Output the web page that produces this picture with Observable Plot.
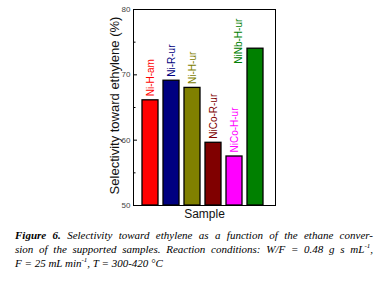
<!DOCTYPE html>
<html><head><meta charset="utf-8">
<script src="https://cdn.jsdelivr.net/npm/d3@7"></script>
<script src="https://cdn.jsdelivr.net/npm/@observablehq/plot@0.6"></script>
<style>
body{margin:0;background:#fff;}
#chart svg{display:block;}
#cap{font-family:"Liberation Serif","Times New Roman",serif;font-style:italic;font-size:11px;line-height:14px;color:#000;margin:6px 0 0 15px;width:358px;}
#cap div.j{text-align:justify;text-align-last:justify;}
#cap b{font-weight:bold;}
#cap sup{font-size:7px;line-height:0;}
</style></head>
<body>
<div id="chart"></div>
<div id="cap">
<div class="j"><b>Figure 6.</b> Selectivity toward ethylene as a function of the ethane conver-</div>
<div class="j">sion of the supported samples. Reaction conditions: W/F = 0.48 g s mL<sup>-1</sup>,</div>
<div>F = 25 mL min<sup>-1</sup>, T = 300-420 °C</div>
</div>
<script>
const samples = ["Ni-H-am","Ni-R-ur","Ni-H-ur","NiCo-R-ur","NiCo-H-ur","NiNb-H-ur"];
const selectivity = [66.1, 69.1, 68.0, 59.6, 57.5, 74.0];
const colors = ["#ff0000","#000080","#808000","#800000","#ff00ff","#008000"];
const majorTicks = [50,60,70,80];
const minorTicks = [55,65,75];
const yLabel = "Selectivity toward ethylene (%)";
const xLabel = "Sample";

const data = samples.map((s,i)=>({sample:s, value:selectivity[i], color:colors[i]}));
const W = 381, H = 222, mL = 133, mR = 106, mT = 9, mB = 17;
const plotW = W - mL - mR;

const chart = Plot.plot({
  width: W, height: H,
  marginLeft: mL, marginRight: mR, marginTop: mT, marginBottom: mB,
  style: {fontFamily: "'Liberation Sans', Arial, sans-serif", background: "#fff"},
  x: {domain: samples, range: [134.5, 270.5], padding: 0.22, axis: null},
  y: {domain: [50, 80], axis: null},
  marks: [
    Plot.barY(data, {x: "sample", y1: 50, y2: "value", fill: "color", stroke: "#000", strokeWidth: 1.3}),
    Plot.frame({stroke: "#000", strokeWidth: 1}),
    Plot.tickY(majorTicks, {y: d=>d, insetRight: plotW - 4, stroke: "#000"}),
    Plot.tickY(minorTicks, {y: d=>d, insetRight: plotW - 2.5, stroke: "#000"}),
    Plot.text(majorTicks, {y: d=>d, frameAnchor: "left", dx: -3, textAnchor: "end", text: d=>String(d), fontSize: 8, fill: "#444"}),
    Plot.text(data.slice(0,5), {x: "sample", y: "value", text: "sample", rotate: -90, textAnchor: "start", dy: -4, fill: "color", fontSize: 10}),
    Plot.text(data.slice(5), {x: "sample", y: "value", text: "sample", rotate: -90, textAnchor: "start", dy: 15, dx: -17, fill: "color", fontSize: 10}),
    Plot.text([yLabel], {frameAnchor: "left", textAnchor: "middle", rotate: -90, dx: -19, dy: -2, text: d=>d, fontSize: 13, fill: "#111"}),
    Plot.text([xLabel], {frameAnchor: "bottom", dy: 12, text: d=>d, fontSize: 12, fill: "#111"})
  ]
});
document.getElementById("chart").append(chart);
</script>
</body></html>
